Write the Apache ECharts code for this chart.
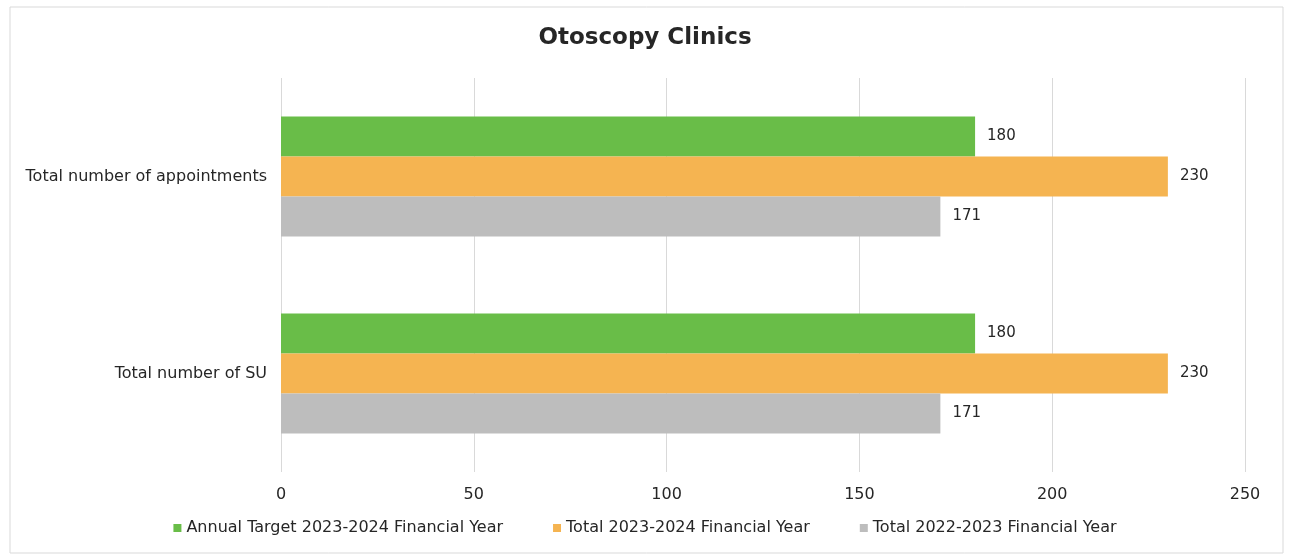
<!DOCTYPE html>
<html>
<head>
<meta charset="utf-8">
<script src="https://cdn.jsdelivr.net/npm/echarts@6/dist/echarts.min.js"></script>
<style>
  html, body { margin: 0; padding: 0; background: #fff; }
  #main { width: 1290px; height: 556px; }
</style>
</head>
<body>
<div id="main"></div>
<script>
// categories top to bottom
var categories = ["Total number of appointments", "Total number of SU"];
var seriesNames = [
  "Annual Target 2023-2024 Financial Year",
  "Total 2023-2024 Financial Year",
  "Total 2022-2023 Financial Year"
];
var targetValues = [180, 180];
var total2324 = [230, 230];
var total2223 = [171, 171];
var xTicks = [0, 50, 100, 150, 200, 250];

var colors = ["#69bd48", "#f5b451", "#bdbdbd"];
var fontFam = "DejaVu Sans";
var txt = "#262626";

var chart = echarts.init(document.getElementById("main"));

function barSeries(name, data, color) {
  return {
    name: name,
    type: "bar",
    data: data,
    barWidth: 40,
    barGap: "0%",
    itemStyle: { color: color },
    label: {
      show: true,
      position: "right",
      distance: 12,
      color: txt,
      fontFamily: fontFam,
      fontSize: 15
    }
  };
}

chart.setOption({
  animation: false,
  textStyle: { fontFamily: fontFam },
  title: {
    text: "Otoscopy Clinics",
    left: "center",
    top: 22,
    textStyle: { fontSize: 23, fontWeight: "bold", color: txt, fontFamily: fontFam }
  },
  graphic: [{
    type: "rect",
    shape: { x: 10, y: 7, width: 1273, height: 546 },
    style: { fill: "none", stroke: "#d9d9d9", lineWidth: 1 },
    silent: true
  }],
  legend: {
    bottom: 15,
    left: "center",
    icon: "rect",
    itemWidth: 8,
    itemHeight: 8,
    itemGap: 50,
    textStyle: { fontSize: 16, color: txt, fontFamily: fontFam },
    data: seriesNames
  },
  grid: { left: 281, right: 45, top: 78, bottom: 84, containLabel: false },
  xAxis: {
    type: "value",
    min: xTicks[0],
    max: xTicks[xTicks.length - 1],
    interval: 50,
    axisLine: { show: false },
    axisTick: { show: false },
    splitLine: { lineStyle: { color: "#d9d9d9" } },
    axisLabel: { color: txt, fontSize: 16, margin: 15, fontFamily: fontFam }
  },
  yAxis: {
    type: "category",
    inverse: true,
    data: categories,
    axisLine: { show: false },
    axisTick: { show: false },
    axisLabel: { color: txt, fontSize: 16, margin: 14, fontFamily: fontFam }
  },
  series: [
    barSeries(seriesNames[0], targetValues, colors[0]),
    barSeries(seriesNames[1], total2324, colors[1]),
    barSeries(seriesNames[2], total2223, colors[2])
  ]
});
</script>
</body>
</html>
